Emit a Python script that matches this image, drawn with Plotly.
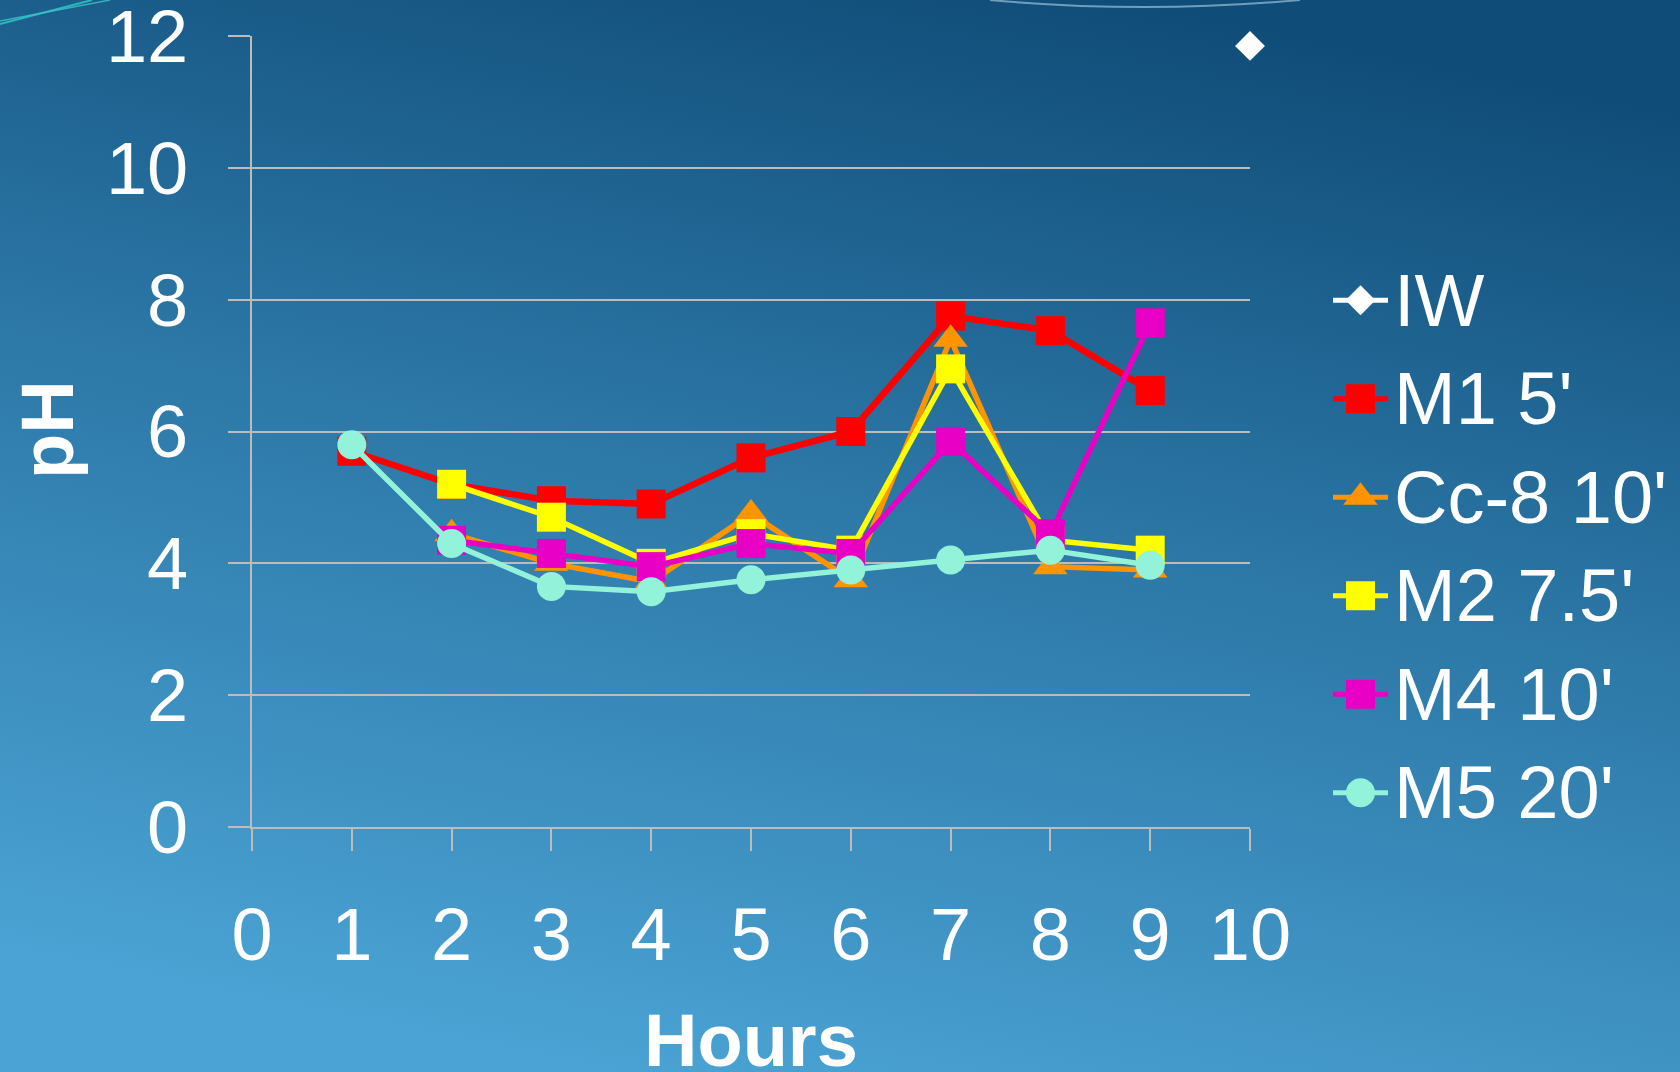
import base64
import plotly.graph_objects as go

# pH readings per sample over time (hours)
hours_m1 = [1, 2, 3, 4, 5, 6, 7, 8, 9]
ph_m1 = [5.7, 5.2, 4.95, 4.9, 5.6, 6.0, 7.75, 7.53, 6.62]

hours_cc8 = [2, 3, 4, 5, 6, 7, 8, 9]
ph_cc8 = [4.45, 4.0, 3.72, 4.75, 3.75, 7.4, 3.95, 3.9]

hours_m2 = [2, 3, 4, 5, 6, 7, 8, 9]
ph_m2 = [5.2, 4.7, 4.0, 4.45, 4.2, 6.95, 4.35, 4.2]

hours_m4 = [2, 3, 4, 5, 6, 7, 8, 9]
ph_m4 = [4.35, 4.15, 3.95, 4.3, 4.15, 5.85, 4.45, 7.65]

hours_m5 = [1, 2, 3, 4, 5, 6, 7, 8, 9]
ph_m5 = [5.8, 4.3, 3.65, 3.57, 3.75, 3.9, 4.05, 4.2, 3.97]

hours_iw = [10]
ph_iw = [11.85]

x_ticks = [0, 1, 2, 3, 4, 5, 6, 7, 8, 9, 10]
y_ticks = [0, 2, 4, 6, 8, 10, 12]

# name, x, y, colour, symbol, marker size, line width
series = [
    ("IW", hours_iw, ph_iw, "#ffffff", "diamond", 23, 5),
    ("M1 5'", hours_m1, ph_m1, "#ff0000", "square", 29, 6.5),
    ("Cc-8 10'", hours_cc8, ph_cc8, "#ff9400", "triangle-up", 30, 5.5),
    ("M2 7.5'", hours_m2, ph_m2, "#ffff00", "square", 29, 5.5),
    ("M4 10'", hours_m4, ph_m4, "#e800c4", "square", 29, 5.5),
    ("M5 20'", hours_m5, ph_m5, "#92f2da", "circle", 29, 5.5),
]

W, H = 1680, 1072
FONT = "Liberation Sans, Arial, sans-serif"
GRID = "#bcbcbc"

# slide-style blue backdrop with a couple of thin decorative strokes
bg_svg = f"""<svg xmlns='http://www.w3.org/2000/svg' width='{W}' height='{H}' viewBox='0 0 {W} {H}' preserveAspectRatio='none'>
<defs><linearGradient id='g' x1='0.68' y1='0' x2='0.36' y2='1'>
<stop offset='0' stop-color='#104c78'/>
<stop offset='0.45' stop-color='#2b76a5'/>
<stop offset='1' stop-color='#4aa3d4'/>
</linearGradient></defs>
<rect x='0' y='0' width='{W}' height='{H}' fill='url(#g)'/>
<path d='M0,24 L92,0' stroke='#2cb6be' stroke-width='2' fill='none'/>
<path d='M0,21 L110,0' stroke='#3cc4c8' stroke-width='1.5' fill='none' opacity='0.8'/>
<path d='M990,0 Q1145,14 1300,0' stroke='#bfe0f0' stroke-width='2' fill='none' opacity='0.55'/>
</svg>"""
bg_uri = "data:image/svg+xml;base64," + base64.b64encode(bg_svg.encode()).decode()

fig = go.Figure()

for name, xs, ys, color, symbol, size, lw in series:
    fig.add_trace(go.Scatter(
        x=xs, y=ys, name=name, mode="lines+markers",
        line=dict(color=color, width=lw),
        marker=dict(symbol=symbol, size=size, color=color, line=dict(width=0)),
        cliponaxis=False, showlegend=False,
        xaxis="x", yaxis="y",
    ))

# legend keys drawn on their own small axis: short line with a centred marker
for i, (name, xs, ys, color, symbol, size, lw) in enumerate(series):
    fig.add_trace(go.Scatter(
        x=[0, 1], y=[i, i], mode="lines",
        line=dict(color=color, width=5),
        cliponaxis=False, showlegend=False, hoverinfo="skip",
        xaxis="x2", yaxis="y2",
    ))
    fig.add_trace(go.Scatter(
        x=[0.5], y=[i], mode="markers",
        marker=dict(symbol=symbol, size=size, color=color, line=dict(width=0)),
        cliponaxis=False, showlegend=False, hoverinfo="skip",
        xaxis="x2", yaxis="y2",
    ))
    fig.add_annotation(
        x=1, y=i, xref="x2", yref="y2", text=name, showarrow=False,
        xanchor="left", yanchor="middle", xshift=4,
        font=dict(family=FONT, size=74, color="white"),
    )

fig.add_annotation(
    x=751 / W, y=1 - 1040 / H, xref="paper", yref="paper", text="<b>Hours</b>",
    showarrow=False, xanchor="center", yanchor="middle",
    font=dict(family=FONT, size=74, color="white"),
)
fig.add_annotation(
    x=47 / W, y=1 - 430 / H, xref="paper", yref="paper", text="<b>pH</b>",
    showarrow=False, xanchor="center", yanchor="middle", textangle=-90,
    font=dict(family=FONT, size=74, color="white"),
)

fig.update_layout(
    width=W, height=H,
    margin=dict(l=0, r=0, t=0, b=0, autoexpand=False),
    paper_bgcolor="#2a74a3",
    plot_bgcolor="rgba(0,0,0,0)",
    showlegend=False,
    images=[dict(source=bg_uri, xref="paper", yref="paper", x=0, y=1,
                 sizex=1, sizey=1, sizing="stretch", layer="below")],
    xaxis=dict(
        domain=[252 / W, 1250 / W], range=[0, 10],
        tickmode="array", tickvals=x_ticks, ticktext=[str(v) for v in x_ticks],
        ticks="outside", ticklen=22, tickwidth=2, tickcolor=GRID,
        showline=True, linecolor=GRID, linewidth=2,
        showgrid=False, zeroline=False,
        tickfont=dict(family=FONT, size=74, color="white"),
        ticklabelstandoff=20, ticklabeloverflow="allow",
    ),
    yaxis=dict(
        domain=[1 - 827 / H, 1 - 36 / H], range=[0, 12],
        tickmode="array", tickvals=y_ticks, ticktext=[str(v) for v in y_ticks],
        ticks="outside", ticklen=22, tickwidth=2, tickcolor=GRID,
        showline=True, linecolor=GRID, linewidth=2,
        showgrid=True, gridcolor=GRID, gridwidth=2, zeroline=False,
        tickfont=dict(family=FONT, size=74, color="white"),
        ticklabelstandoff=25, ticklabeloverflow="allow",
    ),
    xaxis2=dict(domain=[1333 / W, 1388 / W], range=[0, 1], visible=False, fixedrange=True),
    yaxis2=dict(domain=[1 - 842 / H, 1 - 251 / H], range=[5.5, -0.5], visible=False,
                fixedrange=True, anchor="x2"),
)

fig.write_html("out.html")
